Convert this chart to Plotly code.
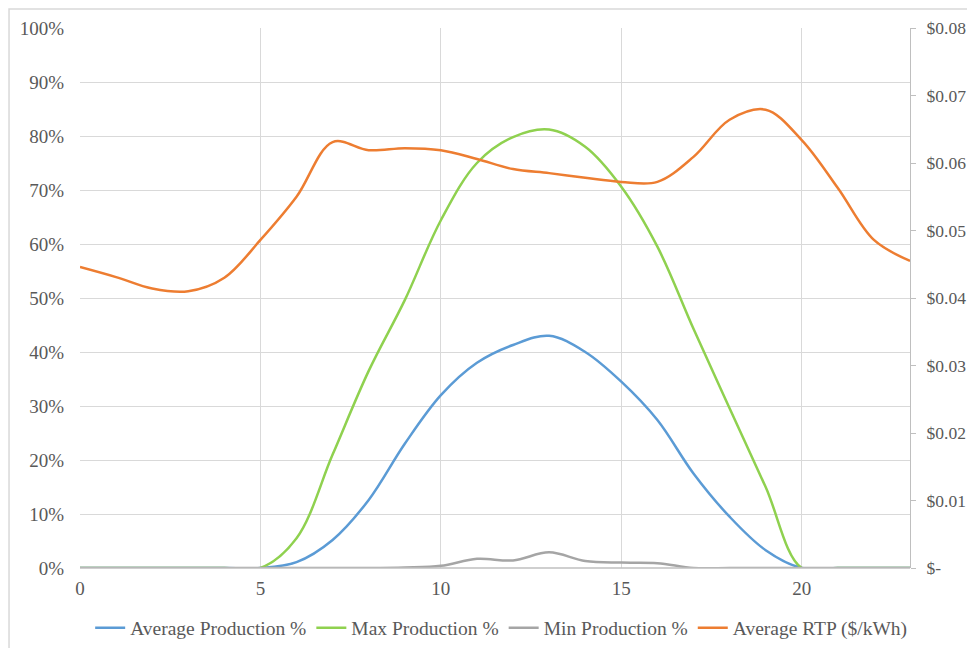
import plotly.graph_objects as go

hours = list(range(24))
avg_prod = [0, 0, 0, 0, 0, 0, 0.011, 0.052, 0.126, 0.23, 0.32, 0.38, 0.413, 0.43, 0.40, 0.345,
            0.274, 0.175, 0.095, 0.033, 0, 0, 0, 0]
max_prod = [0, 0, 0, 0, 0, 0, 0.055, 0.21, 0.365, 0.496, 0.644, 0.75, 0.798, 0.812, 0.78, 0.706,
            0.595, 0.443, 0.296, 0.15, 0, 0, 0, 0]
min_prod = [0, 0, 0, 0, 0, 0, 0, 0, 0, 0.001, 0.004, 0.017, 0.014, 0.029, 0.013, 0.01,
            0.009, 0, 0, 0, 0, 0, 0, 0]
avg_rtp = [0.0446, 0.0431, 0.0414, 0.0410, 0.0430, 0.0486, 0.0550, 0.0631, 0.0619, 0.0622,
           0.0619, 0.0606, 0.0591, 0.0585, 0.0578, 0.0572, 0.0572, 0.0609, 0.0664, 0.0679,
           0.0634, 0.0563, 0.0486, 0.0455]

left_ticks = [i / 10 for i in range(11)]
right_ticks = [0, 0.01, 0.02, 0.03, 0.04, 0.05, 0.06, 0.07, 0.08]
right_labels = ["$-", "$0.01", "$0.02", "$0.03", "$0.04", "$0.05", "$0.06", "$0.07", "$0.08"]
x_ticks = [0, 5, 10, 15, 20]

FONT = "'Liberation Serif', 'Times New Roman', 'DejaVu Serif', serif"
fig = go.Figure()
series = [
    ("Average Production %", avg_prod, "#5b9bd5", "y"),
    ("Max Production %", max_prod, "#8fd14f", "y"),
    ("Min Production %", min_prod, "#a5a5a5", "y"),
    ("Average RTP ($/kWh)", avg_rtp, "#ed7d31", "y2"),
]
for name, vals, col, ax in series:
    fig.add_trace(go.Scatter(x=hours, y=vals, name=name, mode="lines", yaxis=ax,
                             line=dict(color=col, width=2.5, shape="spline", smoothing=1.0)))

fig.update_layout(
    width=967, height=640,
    margin=dict(l=72, r=65, t=20, b=80, autoexpand=False),
    paper_bgcolor="white", plot_bgcolor="white",
    font=dict(family=FONT, color="#595959", size=19),
    xaxis=dict(range=[0, 23], tickvals=x_ticks, showgrid=True, gridcolor="#d9d9d9",
               zeroline=False, showline=False, ticks="", tickfont=dict(size=19),
               ticklabelstandoff=7),
    yaxis=dict(range=[0, 1], tickvals=left_ticks, tickformat=".0%", showgrid=True,
               gridcolor="#d9d9d9", zeroline=False, showline=False, ticks="",
               tickfont=dict(size=19), ticklabelstandoff=15),
    yaxis2=dict(range=[0, 0.08], tickvals=right_ticks, ticktext=right_labels,
                overlaying="y", side="right", showgrid=False, zeroline=False,
                showline=True, linecolor="#bfbfbf", linewidth=1, ticks="outside",
                ticklen=5, tickcolor="#bfbfbf", tickfont=dict(size=17.5),
                ticklabelstandoff=7),
    legend=dict(orientation="h", xref="container", x=0.51, xanchor="center",
                yref="container", y=0.031, yanchor="middle",
                font=dict(size=19.5, color="#595959"), itemwidth=30, tracegroupgap=0),
    shapes=[
        dict(type="line", xref="paper", yref="paper", x0=0, x1=1, y0=0, y1=0,
             line=dict(color="#bfbfbf", width=1.5)),
        dict(type="rect", xref="paper", yref="paper", x0=-0.0855, x1=1.2, y0=-0.3, y1=1.035,
             line=dict(color="#d9d9d9", width=1.5), fillcolor="rgba(0,0,0,0)", layer="below"),
    ],
)
fig.write_html("out.html")
